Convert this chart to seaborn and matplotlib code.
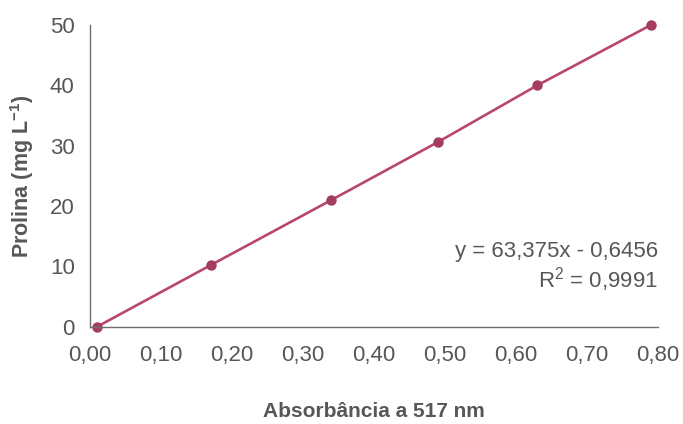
import matplotlib
matplotlib.use("Agg")
import matplotlib.pyplot as plt
import seaborn as sns
import pandas as pd
from matplotlib.ticker import FuncFormatter

# Data
absorbance = [0.01, 0.17, 0.34, 0.49, 0.63, 0.79]
prolina = [0.0, 10.2, 21.0, 30.6, 40.0, 50.0]
x_ticks = [0.0, 0.1, 0.2, 0.3, 0.4, 0.5, 0.6, 0.7, 0.8]
y_ticks = [0, 10, 20, 30, 40, 50]
equation = "y = 63,375x - 0,6456"
r2_text = "R$^2$ = 0,9991"

sns.set_style("white")
plt.rcParams['font.family'] = ['Liberation Sans', 'DejaVu Sans']
plt.rcParams['mathtext.default'] = 'regular'

txt = "#575757"
spine = "#6e6e6e"
line_c = "#b8466f"
mark_c = "#a53c62"

df = pd.DataFrame({"x": absorbance, "y": prolina})

fig = plt.figure(figsize=(6.83, 4.24), dpi=100)
ax = fig.add_axes([90/683, 1-326.7/424, (658-90)/683, (326.7-25)/424])

sns.lineplot(data=df, x="x", y="y", ax=ax, color=line_c, linewidth=1.9,
             marker="o", markersize=7.5, markerfacecolor=mark_c,
             markeredgecolor=mark_c, markeredgewidth=0)

ax.set_xlim(0, 0.8)
ax.set_ylim(0, 50)
ax.set_xticks(x_ticks)
ax.set_yticks(y_ticks)
ax.xaxis.set_major_formatter(FuncFormatter(lambda v, p: f"{v:.2f}".replace(".", ",")))
ax.yaxis.set_major_formatter(FuncFormatter(lambda v, p: f"{int(round(v))}"))

for s in ["top", "right"]:
    ax.spines[s].set_visible(False)
for s in ["left", "bottom"]:
    ax.spines[s].set_color(spine)
    ax.spines[s].set_linewidth(1.0)

ax.tick_params(axis="both", which="major", direction="out", length=4,
               width=1.0, color=spine, labelcolor=txt, labelsize=16)
ax.tick_params(axis="x", pad=9)
ax.tick_params(axis="y", pad=7)
for l in ax.lines:
    l.set_clip_on(False)

ax.set_xlabel("Absorbância a 517 nm", fontsize=15, fontweight="bold",
              color=txt, labelpad=26)
ax.set_ylabel("Prolina (mg L$^{-1}$)", fontsize=15.5, fontweight="bold",
              color=txt, labelpad=10)

ax.text(658/683, 1-251/424, equation, transform=fig.transFigure,
        ha="right", va="center", fontsize=16, color=txt)
ax.text(658/683, 1-280/424, r2_text, transform=fig.transFigure,
        ha="right", va="center", fontsize=16, color=txt)

fig.savefig("out.png", dpi=100, facecolor="white")
